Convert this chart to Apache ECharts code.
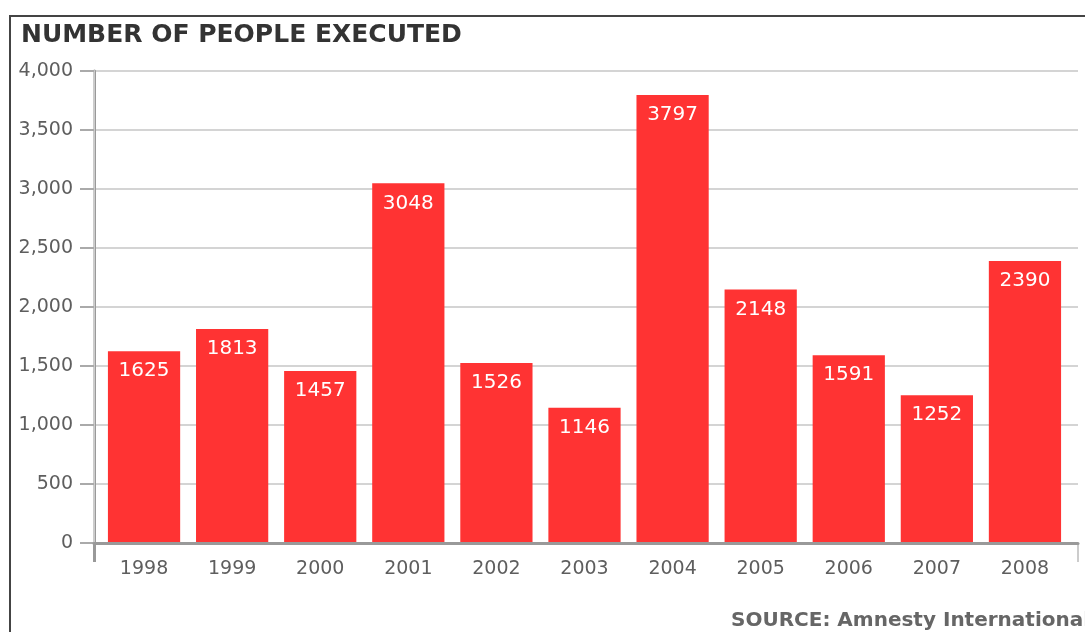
<!DOCTYPE html>
<html>
<head>
<meta charset="utf-8">
<script src="https://cdn.jsdelivr.net/npm/echarts@6/dist/echarts.min.js"></script>
<style>
  html, body { margin: 0; padding: 0; background: #fff; }
  #chart { width: 1085px; height: 632px; }
</style>
</head>
<body>
<div id="chart"></div>
<script>
const chartTitle = 'NUMBER OF PEOPLE EXECUTED';
const sourceText = 'SOURCE: Amnesty International';
const years = ['1998', '1999', '2000', '2001', '2002', '2003', '2004', '2005', '2006', '2007', '2008'];
const executions = [1625, 1813, 1457, 3048, 1526, 1146, 3797, 2148, 1591, 1252, 2390];
const yMin = 0;
const yMax = 4000;
const yStep = 500;

const FONT = 'DejaVu Sans';
const chart = echarts.init(document.getElementById('chart'), null, { renderer: 'canvas' });

const option = {
  animation: false,
  backgroundColor: '#ffffff',
  title: {
    text: chartTitle,
    left: 16,
    top: 18,
    textStyle: { fontFamily: FONT, fontWeight: 'bold', fontSize: 25, color: '#333333' }
  },
  graphic: [
    {
      type: 'rect',
      shape: { x: 10, y: 16, width: 1300, height: 800 },
      style: { fill: 'none', stroke: '#444444', lineWidth: 2 },
      silent: true
    },
    {
      type: 'text',
      left: 731,
      top: 611,
      style: { text: sourceText, font: 'bold 20px "DejaVu Sans"', fill: '#666666' },
      silent: true
    }
  ],
  grid: [
    { left: 94, right: 7, top: 71, bottom: 89 },
    { left: 100, right: 16, top: 71, bottom: 89 }
  ],
  xAxis: [
    {
      gridIndex: 0, type: 'value', position: 'bottom', min: 0, max: 1, interval: 1, z: 5,
      axisLine: { show: true, lineStyle: { color: '#999999', width: 3 } },
      axisTick: { show: true, length: 19, customValues: [0], lineStyle: { color: '#999999', width: 3 } },
      axisLabel: { show: false },
      splitLine: { show: false }
    },
    {
      gridIndex: 1, type: 'category', data: years,
      axisLine: { show: false },
      axisTick: { show: false },
      axisLabel: { margin: 17, fontSize: 19, fontFamily: FONT, color: '#5e5e5e' }
    },
    {
      gridIndex: 0, type: 'value', position: 'bottom', min: 0, max: 1, interval: 1, z: 4,
      axisLine: { show: false },
      axisTick: { show: true, length: 19, customValues: [1], lineStyle: { color: '#cccccc', width: 2 } },
      axisLabel: { show: false },
      splitLine: { show: false }
    }
  ],
  yAxis: [
    {
      gridIndex: 0, type: 'value', position: 'left', min: yMin, max: yMax, interval: yStep,
      axisLine: { show: true, lineStyle: { color: '#999999', width: 3 } },
      axisTick: { show: true, length: 14, lineStyle: { color: '#aaaaaa', width: 2 } },
      axisLabel: {
        margin: 21, fontSize: 19, fontFamily: FONT, color: '#5e5e5e',
        formatter: v => v.toLocaleString('en-US')
      },
      splitLine: { show: true, lineStyle: { color: '#d4d4d4', width: 2 } }
    },
    {
      gridIndex: 0, type: 'value', position: 'right', min: yMin, max: yMax, interval: yStep,
      axisLine: { show: true, lineStyle: { color: '#cccccc', width: 2 } },
      axisTick: { show: false },
      axisLabel: { show: false },
      splitLine: { show: false }
    },
    {
      gridIndex: 1, type: 'value', min: yMin, max: yMax, interval: yStep, show: false
    }
  ],
  series: [
    {
      type: 'bar',
      xAxisIndex: 1,
      yAxisIndex: 2,
      data: executions,
      barCategoryGap: '18%',
      itemStyle: { color: '#ff3333' },
      label: {
        show: true, position: 'insideTop', distance: 10,
        color: '#ffffff', fontSize: 20, fontFamily: FONT
      }
    }
  ]
};

chart.setOption(option);
</script>
</body>
</html>
